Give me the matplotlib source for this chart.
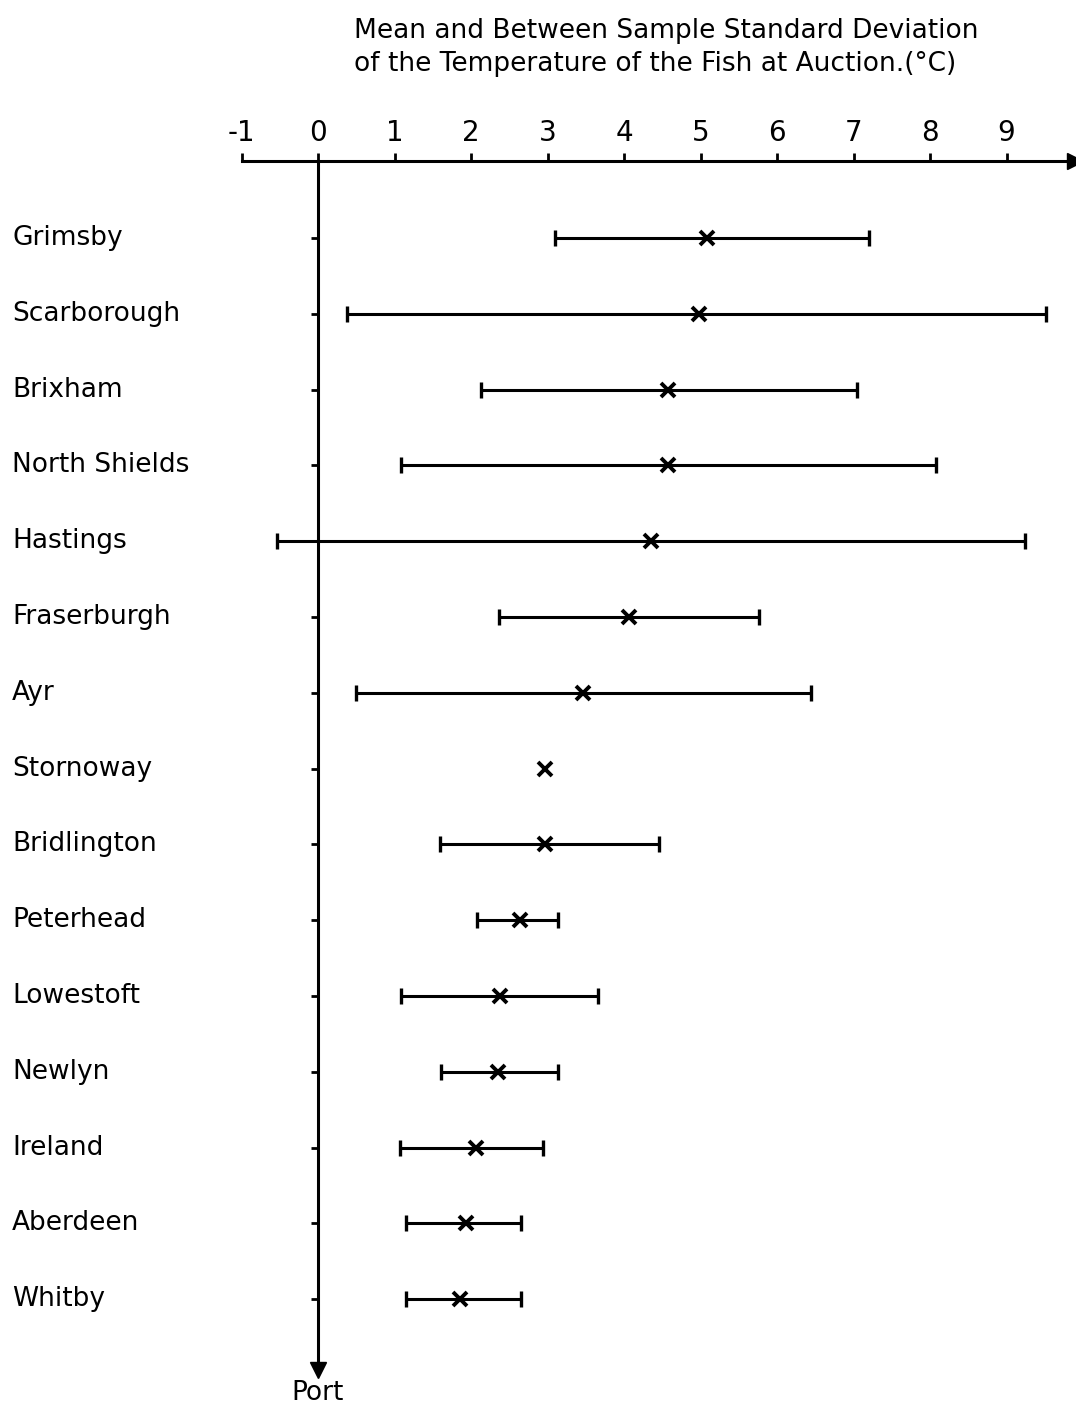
import matplotlib.pyplot as plt

ports = ["Grimsby", "Scarborough", "Brixham", "North Shields", "Hastings",
         "Fraserburgh", "Ayr", "Stornoway", "Bridlington", "Peterhead",
         "Lowestoft", "Newlyn", "Ireland", "Aberdeen", "Whitby"]
means = [5.08, 4.98, 4.58, 4.58, 4.35, 4.07, 3.46, 2.97, 2.97, 2.64,
         2.38, 2.35, 2.07, 1.93, 1.86]
lows = [3.10, 0.38, 2.13, 1.08, -0.54, 2.37, 0.50, None, 1.59, 2.08,
        1.08, 1.61, 1.07, 1.15, 1.15]
highs = [7.20, 9.52, 7.05, 8.08, 9.24, 5.76, 6.44, None, 4.46, 3.14,
         3.66, 3.14, 2.94, 2.65, 2.65]
ticks = [-1, 0, 1, 2, 3, 4, 5, 6, 7, 8, 9]

fig = plt.figure(figsize=(10.76, 14.08), dpi=100)
ax = fig.add_axes([0, 0, 1, 1])
ax.set_xlim(-318 / 76.5, (1076 - 318) / 76.5)
ax.set_ylim((1408 - 238) / 75.8, -238 / 75.8)

rows = list(range(len(ports)))
axis_y = (161 - 238) / 75.8

# error bars (Stornoway has only a mean)
for i in rows:
    if lows[i] is not None:
        ax.errorbar(means[i], i,
                    xerr=[[means[i] - lows[i]], [highs[i] - means[i]]],
                    fmt="none", ecolor="black", elinewidth=2.2,
                    capsize=6, capthick=2.4)
ax.plot(means, rows, "x", color="black", markersize=10, mew=2.8)

# axes drawn with spines
for s in ["right", "bottom"]:
    ax.spines[s].set_visible(False)
ax.spines["top"].set_position(("data", axis_y))
ax.spines["top"].set_bounds(-1, 9.85)
ax.spines["left"].set_position(("data", 0))
ax.spines["left"].set_bounds(axis_y, 14.9)
ax.spines["top"].set_linewidth(2.2)
ax.spines["left"].set_linewidth(2.2)

ax.xaxis.set_ticks_position("top")
ax.set_xticks(ticks)
ax.set_xticklabels([str(t) for t in ticks], fontsize=20)
ax.tick_params(axis="x", direction="out", length=6, width=2, pad=4)
ax.set_yticks(rows)
ax.set_yticklabels([])
ax.tick_params(axis="y", direction="out", length=5, width=2)

ax.plot([9.9], [axis_y], marker=">", color="black", markersize=12, clip_on=False)
ax.plot([0], [14.93], marker="v", color="black", markersize=12, clip_on=False)

for i in rows:
    ax.text(-4.0, i, ports[i], fontsize=19, va="center", ha="left")
ax.text(0, 15.24, "Port", fontsize=19, va="center", ha="center")

ax.text(0.47, -2.51,
        "Mean and Between Sample Standard Deviation\nof the Temperature of the Fish at Auction.(°C)",
        fontsize=19, va="center", ha="left", linespacing=1.35)

fig.savefig("out.png", dpi=100)
